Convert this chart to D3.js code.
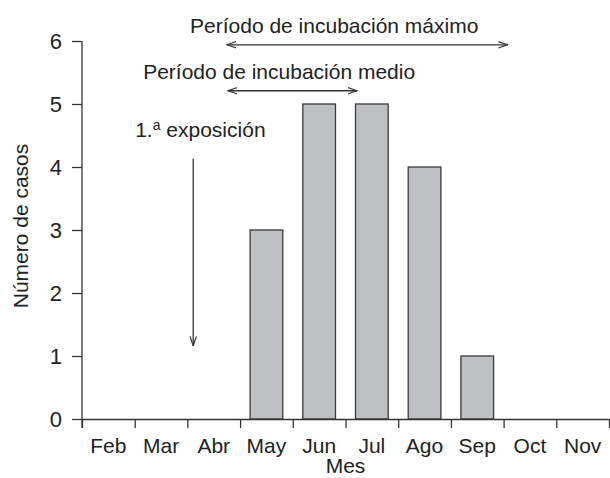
<!DOCTYPE html>
<html>
<head>
<meta charset="utf-8">
<script src="https://cdn.jsdelivr.net/npm/d3@7"></script>
<style>
  body { margin: 0; background: #fff; }
  text { font-family: "Liberation Sans", Arial, sans-serif; fill: #222; }
</style>
</head>
<body>
<div id="chart"></div>
<script>
// data
const months = ["Feb", "Mar", "Abr", "May", "Jun", "Jul", "Ago", "Sep", "Oct", "Nov"];
const cases = [0, 0, 0, 3, 5, 5, 4, 1, 0, 0];
const yTicks = [0, 1, 2, 3, 4, 5, 6];

// incubation periods, in month units (0 = start of Feb) and case units
const periodNames = ["Período de incubación máximo", "Período de incubación medio"];
const periodStart = [2.75, 2.77];
const periodEnd = [8.08, 5.22];
const periodLevel = [5.94, 5.21];
const periodLabelX = [2.05, 1.16];

// first exposure
const exposureAt = 2.11;
const exposureFrom = 4.13;
const exposureTo = 1.16;

const width = 610, height = 478;
const margin = {top: 41, right: 1, bottom: 59, left: 82};
const fontSize = 21;

const svg = d3.select("#chart").append("svg")
  .attr("width", width)
  .attr("height", height);

const x = d3.scaleBand()
  .domain(months)
  .range([margin.left, width - margin.right])
  .paddingInner(0.38)
  .paddingOuter(0.19);

// continuous month scale for ticks at month boundaries and annotations
const xm = d3.scaleLinear()
  .domain([0, months.length])
  .range([margin.left, width - margin.right]);

const y = d3.scaleLinear()
  .domain([0, 6])
  .range([height - margin.bottom, margin.top]);

const ink = "#333";

// bars
svg.append("g")
  .selectAll("rect")
  .data(months.map((m, i) => ({month: m, value: cases[i]})).filter(d => d.value > 0))
  .join("rect")
    .attr("x", d => x(d.month))
    .attr("y", d => y(d.value))
    .attr("width", x.bandwidth())
    .attr("height", d => y(0) - y(d.value))
    .attr("fill", "#bfc0c4")
    .attr("stroke", "#3a3a3a")
    .attr("stroke-width", 1.3);

// y axis
const yAxis = svg.append("g")
  .attr("transform", `translate(${margin.left},0)`)
  .call(d3.axisLeft(y).tickValues(yTicks).tickFormat(d3.format("d")).tickSizeInner(10).tickSizeOuter(0).tickPadding(10))
yAxis.selectAll("path, line").attr("stroke", ink).attr("stroke-width", 1.3);
yAxis.selectAll("text").attr("font-size", 22).attr("font-family", "Liberation Sans, Arial, sans-serif").attr("fill", "#222");
// extend the y axis down to the tick length of the x axis
yAxis.select(".domain").attr("d", `M0,${y(6)}V${y(0) + 9}`);

// x axis: ticks at month boundaries
const xAxis = svg.append("g")
  .attr("transform", `translate(0,${y(0)})`)
  .call(d3.axisBottom(xm).tickValues(d3.range(months.length + 1)).tickSizeInner(9).tickSizeOuter(0).tickFormat(""))
xAxis.selectAll("path, line").attr("stroke", ink).attr("stroke-width", 1.3);

// x labels centred in each month
const xLabels = svg.append("g")
  .attr("transform", `translate(0,${y(0)})`)
  .call(d3.axisBottom(x).tickSize(0).tickPadding(19))
xLabels.select(".domain").remove();
xLabels.selectAll("text").attr("font-size", fontSize).attr("font-family", "Liberation Sans, Arial, sans-serif").attr("fill", "#222");

// axis titles
svg.append("text")
  .attr("x", (margin.left + width - margin.right) / 2)
  .attr("y", 473)
  .attr("text-anchor", "middle")
  .attr("font-size", fontSize)
  .text("Mes");

svg.append("text")
  .attr("transform", `translate(28,${(y(0) + y(6)) / 2 - 4}) rotate(-90)`)
  .attr("text-anchor", "middle")
  .attr("font-size", fontSize)
  .text("Número de casos");

// arrow markers
const defs = svg.append("defs");
defs.append("marker")
  .attr("id", "head")
  .attr("viewBox", "0 0 10 8")
  .attr("refX", 9.5)
  .attr("refY", 4)
  .attr("markerWidth", 10)
  .attr("markerHeight", 8)
  .attr("markerUnits", "userSpaceOnUse")
  .attr("orient", "auto-start-reverse")
  .append("path")
    .attr("d", "M0,0.8 L9.5,4 L0,7.2")
    .attr("fill", "none")
    .attr("stroke", ink)
    .attr("stroke-width", 1.2);

// incubation periods
const periods = svg.append("g")
  .selectAll("g")
  .data(periodNames.map((n, i) => ({name: n, start: periodStart[i], end: periodEnd[i], level: periodLevel[i], lx: periodLabelX[i]})))
  .join("g");

periods.append("line")
  .attr("x1", d => xm(d.start))
  .attr("x2", d => xm(d.end))
  .attr("y1", d => y(d.level))
  .attr("y2", d => y(d.level))
  .attr("stroke", ink)
  .attr("stroke-width", 1.3)
  .attr("marker-start", "url(#head)")
  .attr("marker-end", "url(#head)");

periods.append("text")
  .attr("x", d => xm(d.lx))
  .attr("y", d => y(d.level) - 12)
  .attr("font-size", fontSize)
  .text(d => d.name);

// first exposure
svg.append("line")
  .attr("x1", xm(exposureAt))
  .attr("x2", xm(exposureAt))
  .attr("y1", y(exposureFrom))
  .attr("y2", y(exposureTo))
  .attr("stroke", ink)
  .attr("stroke-width", 1.3)
  .attr("marker-end", "url(#head)");

const expo = svg.append("text")
  .attr("x", xm(exposureAt) - 58)
  .attr("y", y(exposureFrom) - 22)
  .attr("font-size", fontSize);
expo.append("tspan").text("1.");
expo.append("tspan").attr("font-size", 14).attr("dy", -7).text("a");
expo.append("tspan").attr("dy", 7).text(" exposición");
</script>
</body>
</html>
